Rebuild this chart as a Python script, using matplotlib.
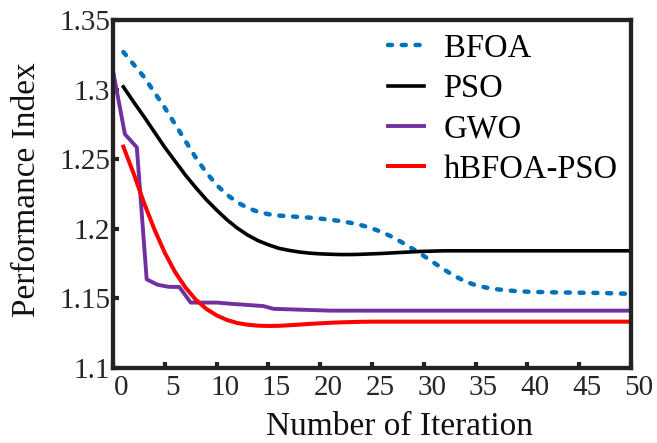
import numpy as np
import matplotlib
matplotlib.use("Agg")
import matplotlib.pyplot as plt
from matplotlib.transforms import ScaledTranslation
from matplotlib.font_manager import FontProperties

plt.rcParams['font.family'] = ['Liberation Serif', 'DejaVu Serif']
SERIF = 'Liberation Serif'

# Convergence data (performance index per iteration)
iters = np.arange(1, 51)
bfoa = [1.327, 1.318, 1.309, 1.298, 1.287, 1.275, 1.263, 1.251, 1.2405, 1.2315,
        1.2245, 1.219, 1.215, 1.2122, 1.2105, 1.2095, 1.209, 1.2085, 1.208, 1.2073,
        1.2065, 1.2055, 1.2042, 1.2025, 1.2003, 1.1975, 1.194, 1.1898, 1.1853, 1.1805,
        1.1755, 1.1705, 1.166, 1.1622, 1.1595, 1.1578, 1.1566, 1.1558, 1.1552, 1.1548,
        1.1546, 1.1544, 1.1543, 1.1542, 1.1541, 1.154, 1.1539, 1.1537, 1.1535, 1.1532]
pso = [1.302, 1.291, 1.2805, 1.2695, 1.2585, 1.2485, 1.2385, 1.2295, 1.221, 1.2135,
       1.2065, 1.2005, 1.1955, 1.1915, 1.1885, 1.186, 1.1845, 1.1833, 1.1825, 1.182,
       1.1817, 1.1815, 1.1815, 1.1817, 1.182, 1.1823, 1.1827, 1.1831, 1.1835, 1.1838,
       1.184, 1.1842, 1.1842, 1.1842, 1.1842, 1.1842, 1.1842, 1.1842, 1.1842, 1.1842,
       1.1842, 1.1842, 1.1842, 1.1842, 1.1842, 1.1842, 1.1842, 1.1842, 1.1842, 1.1842]
hybrid = [1.259, 1.2395, 1.2185, 1.1995, 1.1828, 1.1688, 1.1578, 1.149, 1.1425, 1.1378,
          1.1345, 1.1323, 1.1311, 1.1304, 1.1302, 1.1303, 1.1307, 1.1312, 1.1317, 1.1321,
          1.1325, 1.1328, 1.133, 1.1332, 1.1333, 1.1333, 1.1333, 1.1333, 1.1333, 1.1333,
          1.1333, 1.1333, 1.1333, 1.1333, 1.1333, 1.1333, 1.1333, 1.1333, 1.1333, 1.1333,
          1.1333, 1.1333, 1.1333, 1.1333, 1.1333, 1.1333, 1.1333, 1.1333, 1.1333, 1.1333]
gwo_x = [0, 1.15, 2.3, 3.25, 4.3, 5.4, 6.4, 7.5, 10.0, 11.6, 14.5, 15.5, 21.0, 50]
gwo = [1.3134, 1.268, 1.2585, 1.1637, 1.1598, 1.1583, 1.1582, 1.147, 1.147, 1.146,
       1.1445, 1.1425, 1.1412, 1.1412]

x_ticks = np.arange(0, 51, 5)
y_ticks = [1.1, 1.15, 1.2, 1.25, 1.3, 1.35]
y_tick_labels = ['1.1', '1.15', '1.2', '1.25', '1.3', '1.35']

W, H = 657, 443
fig = plt.figure(figsize=(W / 100, H / 100), dpi=100)
ax = fig.add_axes([113 / W, 1 - 368 / H, 518 / W, 348 / H])

ax.plot(iters, bfoa, color='#0072BD', lw=3.2, dashes=(0.9, 2.2),
        dash_capstyle='round', label='BFOA')
ax.plot(iters, pso, color='black', lw=2.6, label='PSO')
ax.plot(gwo_x, gwo, color='#7030A0', lw=2.8, label='GWO')
ax.plot(iters, hybrid, color='#FF0000', lw=2.9, label='hBFOA-PSO')

ax.set_xlim(0, 50)
ax.set_ylim(1.1, 1.35)
ax.set_xticks(x_ticks)
ax.set_xticklabels([str(v) for v in x_ticks], fontfamily=SERIF)
ax.set_yticks(y_ticks)
ax.set_yticklabels(y_tick_labels, fontfamily=SERIF)

for s in ax.spines.values():
    s.set_linewidth(3.1)
    s.set_color('#222222')

ax.tick_params(axis='both', direction='in', length=4, width=3, color='#222222',
               labelsize=21, labelcolor='#262626', top=False, right=False)
ax.tick_params(axis='y', pad=2)
ax.tick_params(axis='x', pad=5)

shift = ScaledTranslation(8 / 100, 0, fig.dpi_scale_trans)
for lab in ax.get_xticklabels():
    lab.set_transform(lab.get_transform() + shift)

fig.text(399 / W, 1 - 435 / H, 'Number of Iteration', ha='center', va='baseline',
         fontsize=24, color='#111111', fontfamily=SERIF)
fig.text(27 / W, 1 - 190 / H, 'Performance Index', ha='center', va='center',
         rotation=90, fontsize=24, color='#111111', fontfamily=SERIF)

ax.legend(loc='upper left', bbox_to_anchor=(0.531, 0.962), frameon=False,
          prop=FontProperties(family=SERIF, size=23.5),
          handlelength=1.1, handletextpad=0.6, labelspacing=0.3,
          borderpad=0, borderaxespad=0)

fig.savefig('out.png', dpi=100)
